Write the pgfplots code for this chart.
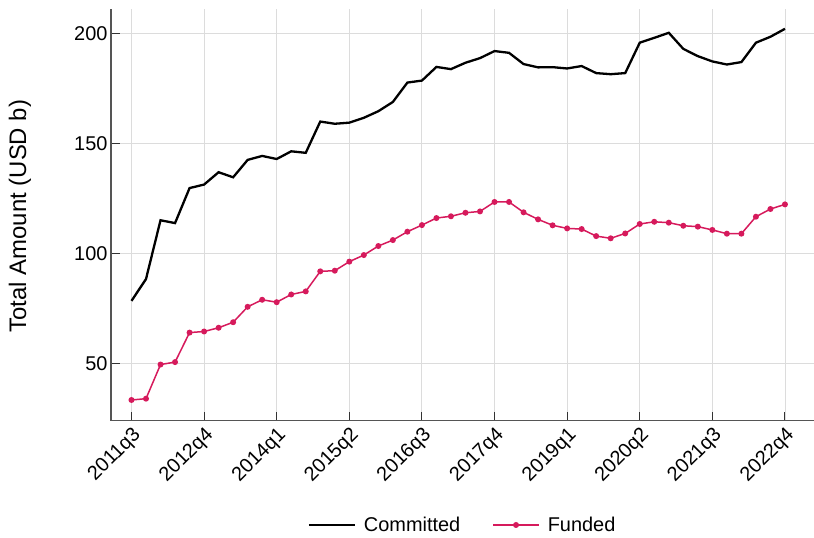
\documentclass[border=0pt]{standalone}
\usepackage{pgfplots}
\pgfplotsset{compat=1.18}
\usepackage{fontspec}
\setmainfont{Liberation Sans}

\definecolor{funded}{RGB}{214,26,92}
\definecolor{gridgray}{RGB}{220,220,220}
\definecolor{axgray}{RGB}{85,85,85}

\newcommand{\lab}{\fontsize{20}{23}\selectfont}
\newcommand{\ylab}{\fontsize{24}{28}\selectfont}

\begin{document}
\begin{tikzpicture}
  \begin{axis}[
    scale only axis,
    width=703bp, height=411.7bp,
    xmin=-1.41, xmax=47.0,
    ymin=24.2, ymax=211.1,
    axis x line*=bottom, axis y line*=left,
    axis line style={axgray, line width=1.3bp, -},
    tick align=inside,
    major tick length=9bp,
    tick style={black!80, line width=1bp},
    xtick={0,5,...,45},
    xticklabels={2011q3,2012q4,2014q1,2015q2,2016q3,2017q4,2019q1,2020q2,2021q3,2022q4},
    ytick={50,100,150,200},
    xticklabel style={rotate=45, anchor=north east, font=\lab},
    yticklabel style={font=\lab},
    /pgf/number format/assume math mode=true,
    grid=major,
    major grid style={gridgray, line width=0.9bp},
    ylabel={Total Amount (USD b)},
    every axis y label/.style={at={(axis description cs:-0.1294,0.497)}, rotate=90, anchor=center, font=\ylab},
    legend columns=2,
    legend style={draw=none, fill=none, at={(axis description cs:0.5,-0.2533)}, anchor=center,
      font=\lab,
      /tikz/every odd column/.append style={column sep=6bp},
      /tikz/every even column/.append style={column sep=30bp}},
    legend image code/.code={\draw[mark repeat=2, mark phase=2, #1] plot coordinates {(0bp,0bp) (23bp,0bp) (46bp,0bp)};},
  ]
    \addplot[black, line width=2.3bp] coordinates {
      (0,78.6)(1,88.5)(2,115.2)(3,113.9)(4,129.8)(5,131.4)(6,137.0)(7,134.7)(8,142.6)(9,144.4)
      (10,143.0)(11,146.5)(12,145.8)(13,160.0)(14,159.0)(15,159.5)(16,161.7)(17,164.7)(18,168.9)(19,177.7)
      (20,178.6)(21,184.8)(22,183.8)(23,186.7)(24,188.8)(25,192.0)(26,191.2)(27,186.1)(28,184.6)(29,184.7)
      (30,184.1)(31,185.2)(32,182.0)(33,181.5)(34,182.0)(35,195.8)(36,198.0)(37,200.3)(38,193.0)(39,189.7)
      (40,187.3)(41,185.9)(42,187.0)(43,195.8)(44,198.5)(45,202.1)
    };
    \addplot[funded, line width=1.5bp, mark=*, mark size=2.2bp] coordinates {
      (0,33.6)(1,34.2)(2,49.7)(3,50.8)(4,64.2)(5,64.7)(6,66.4)(7,68.9)(8,75.9)(9,79.1)
      (10,78.0)(11,81.5)(12,82.9)(13,92.0)(14,92.3)(15,96.4)(16,99.4)(17,103.5)(18,106.2)(19,110.0)
      (20,113.0)(21,116.2)(22,117.0)(23,118.6)(24,119.2)(25,123.5)(26,123.5)(27,118.8)(28,115.6)(29,112.9)
      (30,111.5)(31,111.2)(32,108.0)(33,107.0)(34,109.2)(35,113.5)(36,114.5)(37,114.1)(38,112.7)(39,112.3)
      (40,110.8)(41,109.1)(42,109.1)(43,116.8)(44,120.3)(45,122.4)
    };
    \legend{Committed, Funded}
    \coordinate (bl) at (rel axis cs:0,0);
    \coordinate (tr) at (rel axis cs:1,1);
  \end{axis}
  \pgfresetboundingbox
  \path[use as bounding box] ([xshift=-111bp,yshift=-117.3bp]bl) rectangle ([yshift=9bp]tr);
\end{tikzpicture}
\end{document}
